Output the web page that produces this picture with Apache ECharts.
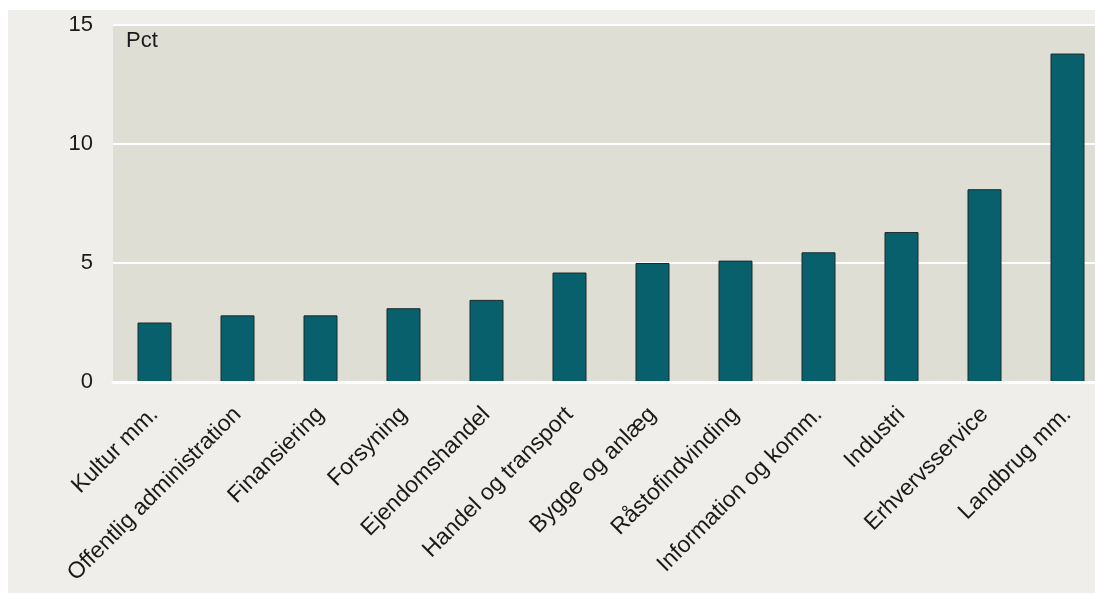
<!DOCTYPE html>
<html>
<head>
<meta charset="utf-8">
<script src="https://cdn.jsdelivr.net/npm/echarts@6/dist/echarts.min.js"></script>
<style>
html,body{margin:0;padding:0;background:#ffffff;}
#c{width:1095px;height:595px;}
</style>
</head>
<body>
<div id="c"></div>
<script>
const categories = ["Kultur mm.", "Offentlig administration", "Finansiering", "Forsyning", "Ejendomshandel", "Handel og transport", "Bygge og anlæg", "Råstofindvinding", "Information og komm.", "Industri", "Erhvervsservice", "Landbrug mm."];
const values = [2.5, 2.8, 2.8, 3.1, 3.45, 4.6, 5.0, 5.1, 5.45, 6.3, 8.1, 13.8];
const yTicks = [0, 5, 10, 15];
const unitLabel = "Pct";

const chart = echarts.init(document.getElementById('c'), null, {renderer: 'canvas'});
chart.setOption({
  animation: false,
  backgroundColor: '#ffffff',
  graphic: [
    {type: 'rect', z: -10, shape: {x: 8, y: 10, width: 1087, height: 583}, style: {fill: '#efeeea'}},
    {type: 'text', z: 10, left: 126, top: 30, style: {text: unitLabel, fontSize: 22, fontFamily: 'Liberation Sans, Arial, sans-serif', fill: '#1a1a1a'}}
  ],
  grid: {
    left: 113, width: 996, top: 25, bottom: 213,
    containLabel: false, outerBoundsMode: 'none',
    show: true, backgroundColor: '#dfded4', borderWidth: 0
  },
  xAxis: {
    type: 'category',
    data: categories,
    boundaryGap: true,
    axisLine: {show: true, lineStyle: {color: '#ffffff', width: 3}},
    axisTick: {show: false},
    axisLabel: {
      interval: 0, rotate: 45, fontSize: 23, margin: 29,
      color: '#1a1a1a', fontFamily: 'Liberation Sans, Arial, sans-serif'
    },
    z: 5
  },
  yAxis: {
    type: 'value',
    min: yTicks[0], max: yTicks[yTicks.length - 1], interval: 5,
    axisLine: {show: false},
    axisTick: {show: false},
    axisLabel: {fontSize: 22, margin: 20, color: '#1a1a1a', fontFamily: 'Liberation Sans, Arial, sans-serif'},
    splitLine: {show: true, lineStyle: {color: '#ffffff', width: 2}}
  },
  series: [{
    type: 'bar',
    data: values,
    barWidth: 34,
    itemStyle: {color: '#08606c', borderColor: '#1b2a2c', borderWidth: 1},
    z: 3
  }]
});
</script>
</body>
</html>
